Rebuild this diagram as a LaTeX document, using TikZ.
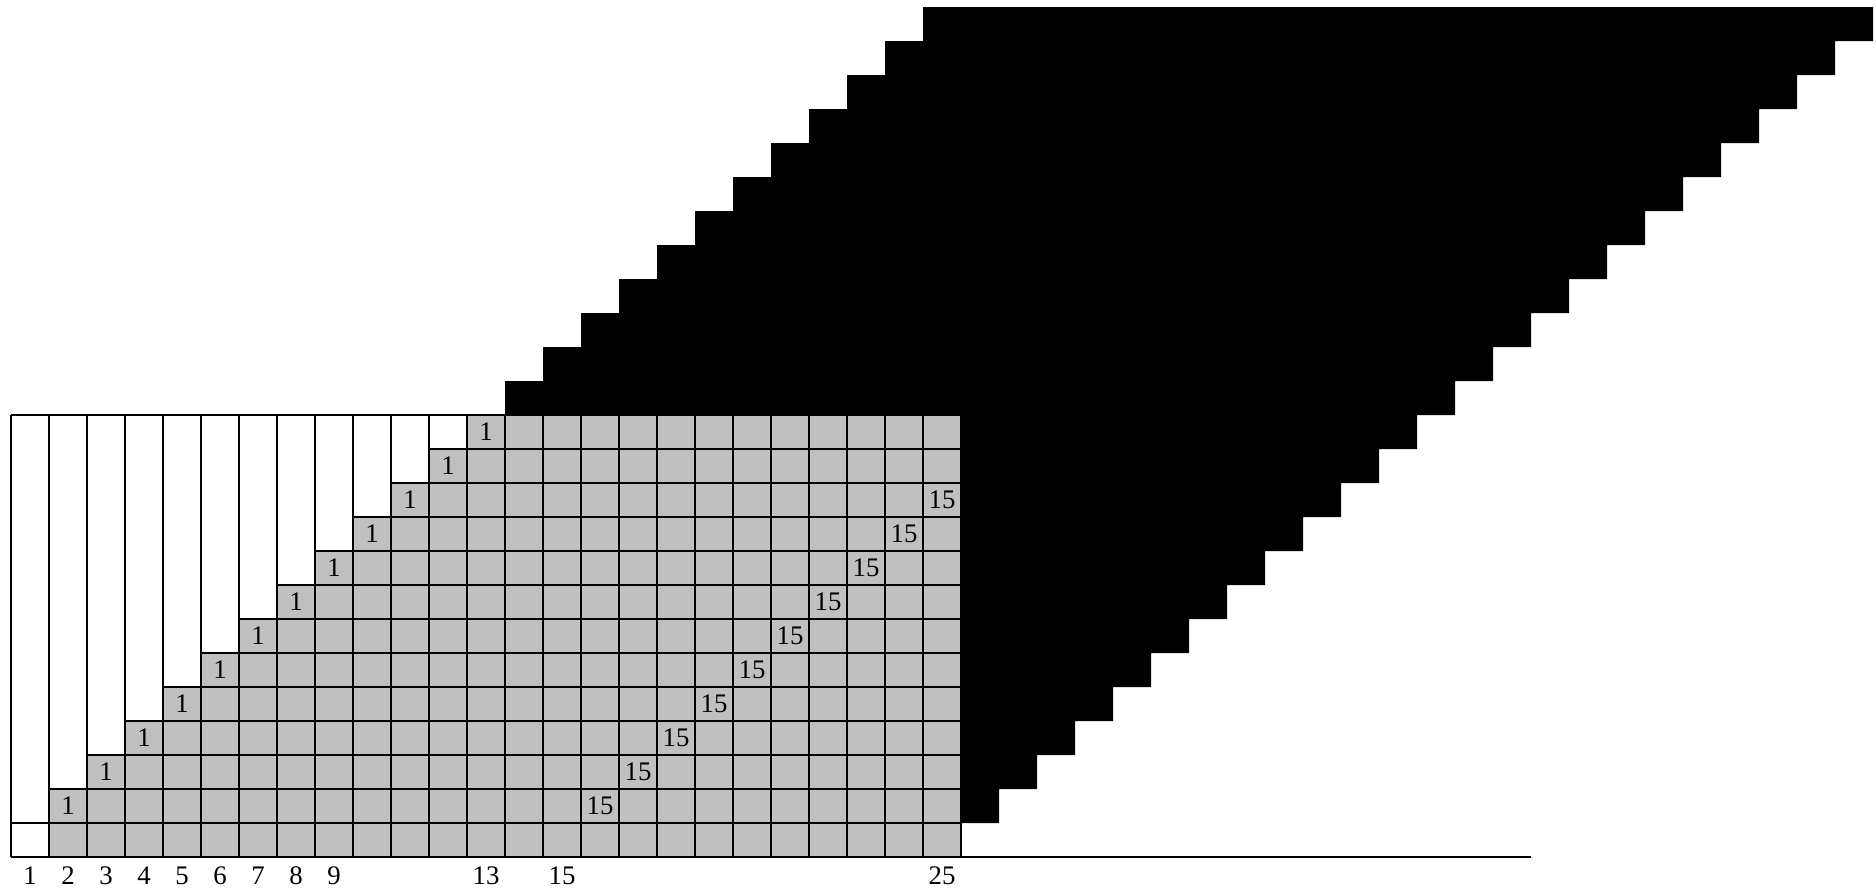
\documentclass[tikz,border=0pt]{standalone}
\usepackage{fontspec}
\setmainfont{Liberation Serif}
\definecolor{cellgray}{RGB}{192,192,192}
\begin{document}
\begin{tikzpicture}[x=0.5pt,y=-0.5pt,
  gridline/.style={line width=1pt, draw=black},
  graycell/.style={fill=cellgray},
  blackarea/.style={fill=black},
  lbl/.style={font=\fontsize{13.4}{15}\selectfont, inner sep=0pt},
]
\useasboundingbox (0,0) rectangle (1876,891);
% black staircase region
\fill[blackarea] (961,823) -- (961,415) -- (505,415)
  foreach \k in {13,...,24} { -- ({11+38*\k},{857-34*(\k+1)}) -- ({11+38*(\k+1)},{857-34*(\k+1)}) }
  -- (1873,7)
  foreach \r in {25,24,...,2} { -- ({11+38*(24+\r)},{857-34*(\r-1)}) -- ({11+38*(23+\r)},{857-34*(\r-1)}) }
  -- cycle;
% gray cells
\fill[graycell] (49,857) rectangle (961,823);
\foreach \r in {2,...,13} {
  \fill[graycell] ({11+38*(\r-1)},{857-34*(\r-1)}) rectangle (961,{857-34*\r});
}
% horizontal lines
\draw[gridline] (11,857) -- (1531,857);
\draw[gridline] (11,823) -- (961,823);
\foreach \j in {2,...,12} {
  \draw[gridline] ({11+38*(\j-1)},{857-34*\j}) -- (961,{857-34*\j});
}
\draw[gridline] (11,415) -- (961,415);
% vertical lines
\foreach \c in {0,...,25} {
  \draw[gridline] ({11+38*\c},857) -- ({11+38*\c},415);
}
% cell labels
\foreach \r in {2,...,13} {
  \node[lbl] (one\r) at ({11+38*(\r-1)+19},{857-34*\r+17}) {1};
}
\foreach \r in {2,...,11} {
  \node[lbl] (fif\r) at ({11+38*(13+\r)+19},{857-34*\r+17}) {15};
}
% axis labels
\foreach \c in {1,2,3,4,5,6,7,8,9,13,15,25} {
  \node[lbl] (ax\c) at ({11+38*(\c-1)+19},876) {\c};
}
\end{tikzpicture}
\end{document}
